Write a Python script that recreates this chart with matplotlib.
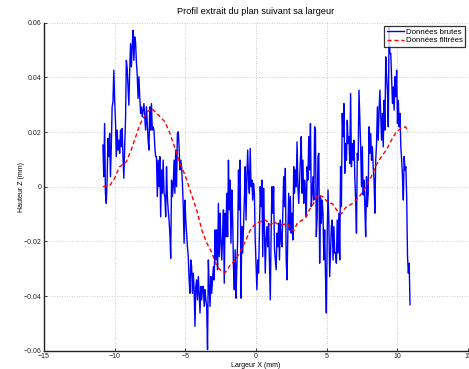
import numpy as np
import matplotlib
matplotlib.use('Agg')
import matplotlib.pyplot as plt

plt.rcParams['font.family'] = ['Liberation Sans', 'DejaVu Sans']

# raw height profile in micrometres, sampled evenly along the width
raw_um = [
    15.2, 3.65, 23.1, -2.4, -6.1, 2.4, 17.7, 11.0, 19.5, 3.65,
    14.6, 29.2, 31.0, 42.6, 31.6, 24.3, 11.0, 20.7, 13.4, 17.0,
    12.2, 20.7, 14.6, 21.3, 11.0, 3.1, 14.6, 24.3, 46.2, 43.2,
    36.5, 29.8, 42.6, 52.3, 43.8, 51.7, 57.2, 46.2, 54.8, 52.9,
    45.6, 40.8, 32.3, 40.2, 32.9, 26.8, 29.2, 25.6, 28.0, 30.4,
    25.6, 20.7, 29.2, 23.1, 17.0, 13.4, 29.2, 20.7, 30.4, 20.7,
    21.9, 20.7, 14.6, 11.0, 11.0, -3.65, 9.7, 0.0, 11.0, -11.0,
    6.1, -2.4, 9.7, -2.4, -3.65, -11.0, 7.3, -3.65, -8.5, -12.2,
    -17.0, -26.2, 2.4, -3.65, 0.0, 9.7, -2.4, 13.4, 0.0, 19.5,
    20.1, 14.6, 6.1, 9.7, 7.3, 1.2, -7.3, -20.7, -4.9, -12.2,
    -17.0, -22.0, -25.6, -34.1, -39.0, -26.8, -29.2, -39.0, -31.6, -37.7,
    -51.1, -36.5, -34.1, -41.4, -32.9, -39.0, -46.2, -36.5, -41.4, -36.5,
    -36.5, -43.8, -37.7, -41.4, -43.8, -59.6, -26.8, -36.5, -43.8, -32.9,
    -39.0, -34.1, -29.2, -34.1, -15.8, -26.8, -15.8, -30.4, -6.1, -25.6,
    -9.7, -19.5, -26.8, -18.3, -8.5, -35.3, -9.7, -18.3, -2.4, -18.3,
    9.7, -8.5, 2.4, -20.7, -1.2, -11.0, -29.2, -37.7, -23.1, -40.8,
    -29.2, -19.5, 6.1, -8.5, 9.7, -40.8, -14.6, -24.3, -14.6, -4.9,
    7.3, -12.2, 3.65, 13.4, 2.4, -2.4, 14.0, 0.0, 2.4, -4.9,
    1.2, -2.4,
    -19.5, -29.2, -37.7, -26.8, -31.6, -17.0, 0.0, -7.3, 2.4, -25.6,
    -0.6, -14.6, -31.6, -19.5, -14.6, -22.0, -13.4, -28.0, -41.4, -17.0,
    0.0, -9.7, 0.0, -23.1, -26.8, -30.4, -17.0, -22.0, -13.4, -26.8,
    -12.2, -19.5, -22.0, -8.5, 3.65, -7.3, 6.7, -26.8, -34.1, -17.0,
    -2.4, -15.8, -3.65, -17.0, -9.7, -19.5, 7.3, -2.4, 6.1, 0.0,
    16.4, 0.0, -6.1, 2.4, 9.7, 18.3, -2.4, 9.7, -6.1, 2.4,
    -1.2, -11.0,
    7.3, 2.4, 18.3, 6.1, 23.1, -7.3, -2.4, 3.65, -4.9, 21.9,
    20.7, -18.3, -11.0, 11.0, 12.2, -28.0, -3.65, -13.4, -4.9, -9.7,
    -26.8, -15.8, -32.9, -46.2, -18.3, -1.2, -13.4, -32.9, -23.1, -14.6,
    -12.2, -26.8, -14.6, -24.3, -24.3, -28.0, -12.2, -24.3, -9.7, -26.8,
    7.3, -7.3, 26.8, 18.3, 30.4, 4.9, 15.8, 9.7, 24.3, 15.8,
    18.3, 8.5, 34.1, 7.3, 15.8, 9.7, 17.0, 3.65, -4.9, -17.0,
    12.2, 9.7,
    35.3, 24.3, 14.6, 0.0, 14.6, -3.0, 2.4, -7.3, -18.3, 3.65,
    -7.3, -2.4, 21.9, 12.2, 19.5, 9.7, 14.6, 7.3, 2.4, -9.7,
    9.7, 15.8, 29.2, 17.0, 28.0, 35.3, 25.6, 17.0, 26.8, 14.6,
    31.6, 20.7, 47.5, 40.2, 35.3, 21.9, 58.4, 48.7, 48.7, 38.9,
    30.4, 36.5, 28.0, 40.2, 32.9, 42.6, 23.1, 31.6, 21.9, 26.8,
    14.6, 9.7, 3.65, -4.9, 11.0, 6.1, 7.3, -3.65, -25.6, -31.6,
    -28.0, -43.2,
]
x_start, x_end = -10.83, 10.90

# filtered profile (x in mm, z in micrometres)
filt_x = [
    -10.83, -10.35, -10.00, -9.65, -9.18, -8.83, -8.47, -8.23, -8.00, -7.69,
    -7.38, -6.91, -6.44, -6.09, -5.73, -5.38, -5.02, -4.67, -4.20, -3.80,
    -3.47, -3.11, -2.76, -2.41, -2.17, -1.82, -1.46, -1.11, -0.76, -0.40,
    -0.02, 0.33, 0.69, 1.04, 1.27, 1.51, 1.86, 2.22, 2.46, 2.69,
    2.92, 3.28, 3.57, 3.77, 4.01, 4.37, 4.72, 5.07, 5.43, 5.78,
    6.02, 6.37, 6.84, 7.24, 7.57, 8.05, 8.51, 8.87, 9.22, 9.58,
    9.93, 10.28, 10.59, 10.76,
]
filt_um = [
    0.0, 0.4, 3.1, 7.3, 9.1, 13.4, 18.9, 22.5, 24.9, 27.4,
    28.6, 26.2, 23.7, 19.5, 14.0, 8.5, 4.3, -1.2, -8.5, -16.4,
    -20.7, -24.3, -29.2, -31.0, -31.4, -28.6, -26.8, -23.7, -20.1, -15.8,
    -13.4, -12.8, -12.2, -14.0, -12.8, -13.6, -14.0, -13.4, -15.6, -16.0,
    -13.4, -12.2, -10.9, -8.5, -6.7, -3.0, -3.65, -5.7, -6.3, -9.1,
    -10.0, -7.5, -6.1, -4.1, -1.8, 2.4, 7.9, 11.0, 13.4, 17.0,
    20.1, 21.3, 21.9, 20.1,
]

raw_z = np.array(raw_um) / 1000.0
raw_x = np.linspace(x_start, x_end, len(raw_z))
filt_z = np.array(filt_um) / 1000.0

fig = plt.figure(figsize=(4.69, 3.69), dpi=100)
ax = fig.add_axes([0.0938, 0.0496, 0.904, 0.889])

ax.plot(raw_x, raw_z, color='#0000ff', lw=1.0, label='Données brutes')
ax.plot(filt_x, filt_z, color='#ff0000', lw=1.0, dashes=(3.0, 2.0),
        label='Données filtrées')

ax.set_xlim(-15, 15)
ax.set_ylim(-0.06, 0.06)
ax.set_xticks([-15, -10, -5, 0, 5, 10, 15])
ax.set_yticks([-0.06, -0.04, -0.02, 0, 0.02, 0.04, 0.06])
ax.set_yticklabels(['\u22120.06', '\u22120.04', '\u22120.02', '0',
                    '0.02', '0.04', '0.06'])

ax.grid(True, color='#bdbdbd', ls=(0, (1, 2)), lw=0.6)
ax.tick_params(direction='in', length=2.5, width=0.6, labelsize=5,
               colors='#222222', pad=2)
for side in ['top', 'right']:
    ax.spines[side].set_visible(False)
for side in ['left', 'bottom']:
    ax.spines[side].set_linewidth(1.0)
    ax.spines[side].set_color('#222222')

ax.set_title('Profil extrait du plan suivant sa largeur', fontsize=6.6, pad=6)
ax.set_xlabel('Largeur X (mm)', fontsize=5, labelpad=1)
ax.set_ylabel('Hauteur Z (mm)', fontsize=5, labelpad=-1)

leg = ax.legend(loc='upper right', fontsize=5.7, frameon=True, fancybox=False,
                borderaxespad=0.4, borderpad=0.3, labelspacing=0.15,
                handlelength=2.2, handletextpad=0.2)
leg.get_frame().set_edgecolor('black')
leg.get_frame().set_linewidth(0.9)

fig.savefig('out.png', dpi=100)
